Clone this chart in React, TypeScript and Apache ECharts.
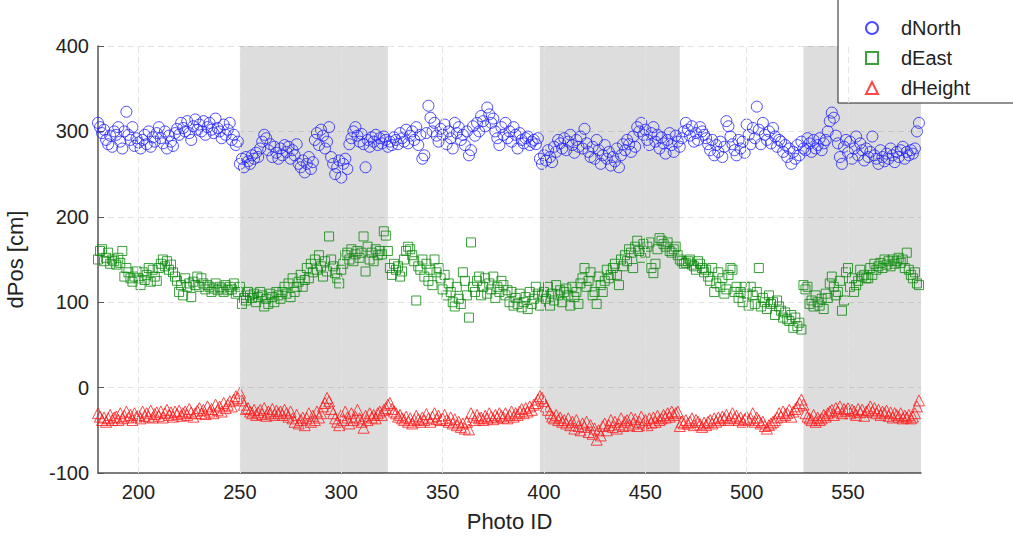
import React, { useEffect, useRef } from "react";
import * as echarts from "echarts";

// Photo IDs run consecutively from this first ID, one sample per photo.
const firstPhotoId = 180;

// Position offsets per photo (cm)
const dNorth = [
  310, 305, 298, 302, 290, 285, 295, 282, 300, 296,
  305, 288, 280, 300, 323, 296, 290, 305, 283, 292,
  287, 280, 290, 296, 285, 300, 282, 293, 288, 298,
  305, 292, 286, 300, 280, 295, 288, 283, 298, 303,
  296, 310, 304, 300, 312, 298, 290, 306, 314, 302,
  308, 300, 312, 296, 305, 310, 302, 298, 315, 304,
  300, 292, 308, 296, 302, 310, 290, 296, 284, 288,
  262, 268, 258, 270, 265, 262, 272, 268, 275, 270,
  280, 288, 296, 292, 278, 285, 270, 282, 275, 268,
  280, 272, 284, 276, 282, 268, 278, 272, 285, 262,
  258, 266, 252, 262, 270, 256, 264, 290, 298, 284,
  302, 295, 280, 288, 305, 270, 262, 250, 258, 266,
  246, 262, 268, 256, 285, 292, 300, 305, 295, 288,
  297, 285, 258, 290, 282, 293, 288, 296, 284, 292,
  286, 294, 290, 282, 288, 284, 293, 290, 285, 298,
  292, 288, 302, 286, 295, 300, 290, 305, 284, 296,
  268, 272, 298, 330, 316, 300, 310, 295, 288, 303,
  296, 308, 285, 300, 292, 280, 310, 298, 305, 290,
  296, 284, 300, 272, 278, 306, 295, 310, 300, 318,
  312, 306, 328, 320, 310, 315, 300, 292, 284, 305,
  296, 310, 292, 300, 288, 305, 296, 280, 298, 290,
  286, 292, 294, 284, 288, 290, 285, 292, 268, 262,
  272, 266, 278, 270, 264, 282, 276, 290, 286, 280,
  292, 278, 288, 296, 284, 275, 290, 282, 294, 280,
  303, 286, 276, 270, 282, 268, 290, 278, 262, 272,
  284, 268, 276, 260, 270, 265, 280, 258, 272, 285,
  278, 290, 285, 276, 294, 282, 305, 300, 310, 296,
  302, 290, 284, 298, 305, 288, 296, 280, 293, 286,
  274, 290, 298, 284, 276, 295, 288, 282, 292, 300,
  310, 302, 295, 306, 288, 298, 290, 305, 300, 296,
  292, 285, 278, 290, 272, 284, 276, 288, 270, 282,
  312, 306, 294, 285, 278, 272, 290, 280, 288, 275,
  308, 296, 285, 304, 292, 329, 302, 285, 310, 296,
  290, 300, 286, 304, 294, 282, 290, 288, 276, 284,
  270, 280, 262, 276, 268, 284, 272, 288, 280, 278,
  292, 286, 276, 290, 280, 284, 292, 278, 286, 290,
  300, 312, 322, 316, 295, 286, 270, 262, 282, 290,
  275, 288, 268, 280, 294, 272, 286, 278, 266, 280,
  270, 276, 294, 272, 268, 262, 278, 270, 265, 274,
  268, 280, 272, 264, 276, 270, 278, 282, 268, 276,
  272, 278, 274, 280, 300, 310,
];

const dEast = [
  150, 160, 162, 148, 152, 158, 145, 150, 148, 144,
  152, 146, 160, 130, 140, 135, 128, 124, 130, 136,
  128, 120, 135, 126, 132, 140, 124, 138, 130, 125,
  140, 145, 150, 142, 148, 138, 144, 135, 130, 125,
  112, 120, 108, 128, 118, 122, 106, 124, 120, 130,
  118, 128, 122, 115, 120, 118, 112, 116, 122, 114,
  118, 116, 112, 120, 114, 118, 115, 122, 110, 112,
  118, 98, 105, 102, 112, 108, 105, 110, 100, 106,
  112, 108, 95, 104, 98, 110, 106, 100, 112, 108,
  104, 112, 118, 110, 122, 106, 128, 112, 118, 124,
  132, 118, 126, 140, 128, 145, 135, 150, 138, 155,
  142, 130, 148, 136, 177, 150, 142, 134, 128, 122,
  138, 145, 155, 158, 150, 162, 148, 156, 160, 152,
  158, 177, 136, 165, 150, 158, 148, 162, 155, 160,
  156, 183, 178, 160, 140, 132, 145, 138, 142, 130,
  136, 150, 160, 165, 162, 155, 148, 102, 142, 138,
  150, 130, 145, 125, 138, 120, 150, 135, 140, 128,
  115, 132, 108, 122, 112, 100, 95, 118, 104, 98,
  135, 125, 108, 82, 170, 118, 112, 125, 130, 108,
  118, 128, 110, 122, 115, 130, 105, 118, 112, 125,
  120, 108, 114, 100, 112, 96, 105, 98, 110, 94,
  100, 106, 92, 112, 98, 104, 118, 110, 96, 108,
  112, 104, 118, 96, 110, 102, 120, 108, 114, 100,
  112, 116, 108, 96, 118, 106, 112, 98, 122, 128,
  140, 118, 125, 135, 108, 112, 98, 130, 120, 112,
  125, 138, 128, 132, 140, 145, 132, 120, 150, 142,
  155, 148, 162, 158, 140, 165, 172, 160, 152, 168,
  158, 165, 170, 140, 134, 145, 162, 175, 172, 168,
  165, 170, 160, 158, 162, 165, 155, 150, 148, 145,
  146, 148, 150, 144, 142, 138, 148, 145, 140, 135,
  138, 130, 125, 140, 112, 122, 135, 118, 128, 110,
  115, 132, 140, 138, 112, 118, 105, 112, 100, 118,
  110, 96, 118, 108, 98, 112, 140, 95, 105, 100,
  92, 108, 98, 100, 85, 102, 95, 90, 82, 88,
  80, 78, 85, 70, 82, 72, 76, 68, 120, 115,
  118, 98, 102, 95, 108, 100, 96, 104, 92, 110,
  105, 122, 130, 118, 108, 112, 125, 90, 102, 135,
  140, 118, 128, 112, 120, 125, 138, 130, 132, 128,
  128, 140, 132, 145, 138, 142, 146, 140, 150, 144,
  148, 142, 150, 145, 148, 152, 146, 150, 140, 158,
  138, 132, 128, 135, 122, 120,
];

const dHeight = [
  -30, -34, -38, -35, -40, -36, -32, -38, -35, -34,
  -38, -30, -36, -33, -28, -35, -32, -38, -30, -34,
  -32, -36, -28, -33, -30, -34, -27, -35, -31, -29,
  -33, -28, -35, -30, -26, -32, -29, -34, -28, -31,
  -27, -33, -30, -28, -32, -25, -29, -34, -30, -27,
  -24, -30, -26, -31, -22, -28, -25, -30, -20, -26,
  -22, -28, -18, -24, -20, -16, -22, -14, -10, -12,
  -6, -15, -20, -25, -24, -28, -30, -26, -32, -29,
  -26, -31, -24, -33, -28, -30, -25, -32, -27, -30,
  -28, -32, -26, -30, -34, -28, -36, -40, -32, -42,
  -38, -35, -44, -36, -30, -40, -33, -38, -28, -35,
  -30, -22, -18, -12, -16, -25, -30, -36, -40, -44,
  -32, -38, -28, -35, -42, -30, -38, -34, -26, -36,
  -40, -47, -33, -38, -30, -35, -32, -36, -30, -28,
  -32, -26, -24, -20, -18, -25, -28, -30, -34, -32,
  -36, -38, -34, -40, -36, -42, -38, -33, -37, -40,
  -35, -38, -31, -36, -40, -34, -30, -37, -33, -38,
  -36, -32, -38, -40, -35, -42, -37, -44, -40, -46,
  -42, -48, -40, -49, -30, -34, -38, -32, -36, -35,
  -38, -33, -36, -30, -34, -37, -32, -35, -30, -33,
  -35, -30, -36, -32, -28, -34, -30, -32, -28, -25,
  -30, -24, -28, -22, -26, -20, -18, -14, -10, -12,
  -16, -22, -26, -30, -34, -36, -32, -38, -35, -40,
  -38, -42, -36, -44, -40, -48, -38, -45, -50, -42,
  -46, -40, -52, -44, -54, -48, -61, -50, -56, -45,
  -42, -50, -44, -38, -46, -40, -48, -43, -36, -45,
  -40, -38, -44, -35, -42, -37, -45, -40, -34, -42,
  -38, -44, -36, -41, -35, -40, -33, -38, -36, -32,
  -35, -30, -34, -28, -32, -30, -28, -45, -40, -42,
  -38, -42, -40, -36, -44, -38, -40, -43, -46, -41,
  -44, -40, -38, -42, -36, -40, -35, -38, -34, -36,
  -32, -38, -35, -30, -36, -33, -38, -35, -40, -37,
  -34, -38, -36, -30, -40, -35, -38, -42, -40, -45,
  -48, -44, -42, -40, -38, -35, -30, -34, -28, -32,
  -30, -26, -34, -28, -25, -22, -18, -14, -20, -30,
  -34, -36, -38, -32, -40, -35, -38, -36, -32, -34,
  -30, -28, -26, -32, -24, -28, -22, -30, -25, -27,
  -24, -30, -26, -28, -32, -25, -29, -26, -33, -28,
  -26, -22, -28, -24, -30, -26, -32, -28, -30, -27,
  -33, -29, -35, -30, -32, -34, -30, -36, -33, -35,
  -32, -36, -34, -30, -22, -15,
];

// Shaded photo-ID intervals
const shadedRanges: [number, number][] = [
  [250, 323],
  [398, 467],
  [528, 586],
];

const xTicks = [200, 250, 300, 350, 400, 450, 500, 550];
const xRange: [number, number] = [180, 586];
const yTicks = { min: -100, max: 400, step: 100 };

const FONT = "'Liberation Sans', Arial, Helvetica, sans-serif";
const GRID_LINE = { color: "#e4e4e4", type: [6, 4] as number[], width: 1 };

const toPoints = (values: number[]) =>
  values.map((v, i) => [firstPhotoId + i, v]);

export default function App() {
  const ref = useRef<HTMLDivElement>(null);

  useEffect(() => {
    if (!ref.current) return;
    const chart = echarts.init(ref.current, undefined, { renderer: "svg" });

    const hollow = (color: string, symbol: string, size: number) => ({
      type: "scatter" as const,
      symbol,
      symbolSize: size,
      itemStyle: { color: "rgba(0,0,0,0)", borderColor: color, borderWidth: 1 },
      z: 3,
    });

    chart.setOption({
      animation: false,
      backgroundColor: "#ffffff",
      textStyle: { fontFamily: FONT },
      grid: {
        left: 98,
        right: 92,
        top: 46,
        bottom: 63,
        containLabel: false,
        outerBoundsMode: "none",
      },
      legend: {
        data: ["dNorth", "dEast", "dHeight"],
        orient: "vertical",
        left: 838,
        top: -6,
        padding: [24, 80, 5, 27],
        itemGap: 10,
        itemWidth: 12,
        itemHeight: 12,
        backgroundColor: "#ffffff",
        borderColor: "#222222",
        borderWidth: 1,
        textStyle: {
          fontFamily: FONT,
          fontSize: 20,
          color: "#222",
          padding: [0, 0, 0, 18],
        },
      },
      xAxis: {
        type: "value",
        min: xRange[0],
        max: xRange[1],
        name: "Photo ID",
        nameLocation: "middle",
        nameGap: 37,
        nameTextStyle: { fontFamily: FONT, fontSize: 22, color: "#222" },
        axisLine: { show: true, onZero: false, lineStyle: { color: "#555", width: 1.5 } },
        axisTick: { show: false },
        splitLine: { show: false },
        axisLabel: {
          customValues: xTicks,
          fontFamily: FONT,
          fontSize: 20,
          color: "#222",
          margin: 9,
        },
      },
      yAxis: {
        type: "value",
        min: yTicks.min,
        max: yTicks.max,
        interval: yTicks.step,
        name: "dPos [cm]",
        nameLocation: "middle",
        nameGap: 72,
        nameTextStyle: { fontFamily: FONT, fontSize: 22, color: "#222" },
        axisLine: { show: true, onZero: false, lineStyle: { color: "#555", width: 1.5 } },
        axisTick: { show: true, inside: true, length: 6, lineStyle: { color: "#555" } },
        splitLine: { show: true, lineStyle: GRID_LINE },
        axisLabel: { fontFamily: FONT, fontSize: 20, color: "#222", margin: 9 },
      },
      series: [
        {
          name: "bands",
          type: "scatter",
          data: [],
          silent: true,
          z: 1,
          markArea: {
            silent: true,
            itemStyle: { color: "rgba(0,0,0,0.135)" },
            data: shadedRanges.map(([a, b]) => [{ xAxis: a }, { xAxis: b }]),
          },
          markLine: {
            silent: true,
            symbol: "none",
            label: { show: false },
            lineStyle: GRID_LINE,
            data: xTicks.map((t) => ({ xAxis: t })),
          },
        },
        { name: "dNorth", data: toPoints(dNorth), ...hollow("#1f1fff", "circle", 11) },
        { name: "dEast", data: toPoints(dEast), ...hollow("#0a8a0a", "rect", 9) },
        { name: "dHeight", data: toPoints(dHeight), ...hollow("#ff1a1a", "triangle", 11) },
      ],
    });

    return () => chart.dispose();
  }, []);

  return (
    <div
      ref={ref}
      style={{ position: "fixed", left: 0, top: 0, width: 1013, height: 536 }}
    />
  );
}
